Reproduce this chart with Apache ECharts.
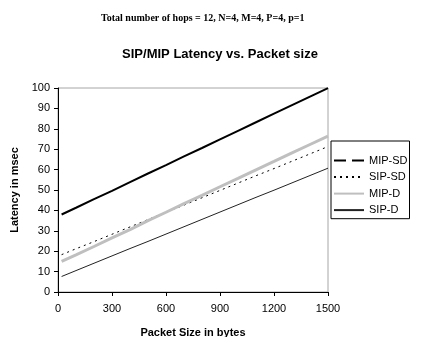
<!DOCTYPE html>
<html>
<head>
<meta charset="utf-8">
<script src="https://cdn.jsdelivr.net/npm/echarts@6/dist/echarts.min.js"></script>
<style>
  html, body { margin: 0; padding: 0; background: #fff; }
  #chart { width: 440px; height: 337px; }
</style>
</head>
<body>
<div id="chart"></div>
<script>
// packet sizes (bytes) and latencies (msec)
const packetSizes = [20, 100, 200, 300, 400, 500, 600, 700, 800, 900, 1000, 1100, 1200, 1300, 1400, 1500];
const mipSD = [38.0, 41.3, 45.5, 49.6, 53.9, 58.1, 62.2, 66.5, 70.6, 74.8, 79.0, 83.2, 87.4, 91.6, 95.8, 99.9];
const sipSD = [18.3, 21.2, 24.7, 28.3, 31.9, 35.5, 39.1, 42.6, 46.2, 49.8, 53.4, 57.0, 60.5, 64.1, 67.7, 71.3];
const mipD = [15.0, 18.2, 22.3, 26.5, 30.6, 35.0, 39.1, 43.3, 47.4, 51.6, 55.7, 59.9, 64.0, 68.2, 72.3, 76.4];
const sipD = [7.6, 10.5, 14.1, 17.7, 21.3, 24.8, 28.4, 32.0, 35.6, 39.2, 42.8, 46.4, 49.9, 53.5, 57.1, 60.7];

const chart = echarts.init(document.getElementById("chart"));

const pairs = (ys) => packetSizes.map((x, i) => [x, ys[i]]);
const axisText = { color: "#000", fontFamily: "Arial, Liberation Sans", fontSize: 11 };

chart.setOption({
  backgroundColor: "#fff",
  animation: false,
  title: [
    {
      text: "Total number of hops = 12, N=4, M=4, P=4, p=1",
      left: 96,
      top: 8,
      textStyle: { fontFamily: "Liberation Serif, Times New Roman", fontWeight: "bold", fontSize: 10, color: "#000" },
    },
    {
      text: "SIP/MIP Latency vs. Packet size",
      left: "center",
      top: 43,
      textStyle: { fontFamily: "Arial, Liberation Sans", fontWeight: "bold", fontSize: 13, color: "#000" },
    },
  ],
  legend: {
    orient: "vertical",
    left: 331,
    top: 141,
    padding: [14, 2, 3, 2],
    itemGap: 5.3,
    itemWidth: 30,
    itemHeight: 14,
    borderColor: "#000",
    borderWidth: 1,
    itemStyle: { opacity: 0 },
    textStyle: { color: "#000", fontFamily: "Arial, Liberation Sans", fontSize: 11, width: 68 },
    data: [
      { name: "MIP-SD", lineStyle: { type: [12, 6] } },
      { name: "SIP-SD" },
      { name: "MIP-D" },
      { name: "SIP-D" },
    ],
  },
  grid: {
    left: 58,
    right: 112,
    top: 88,
    bottom: 45,
    outerBoundsMode: "none",
    show: true,
    borderColor: "#a6a6a6",
    borderWidth: 1,
  },
  xAxis: {
    type: "value",
    min: 0,
    max: 1500,
    interval: 300,
    name: "Packet Size in bytes",
    nameLocation: "middle",
    nameGap: 35,
    nameTextStyle: { color: "#000", fontFamily: "Arial, Liberation Sans", fontWeight: "bold", fontSize: 11 },
    axisLine: { lineStyle: { color: "#000", width: 1 } },
    axisTick: { show: true, length: 4, lineStyle: { color: "#000" } },
    axisLabel: Object.assign({ margin: 11, formatter: (v) => String(v) }, axisText),
    splitLine: { show: false },
  },
  yAxis: {
    type: "value",
    min: 0,
    max: 100,
    interval: 10,
    name: "Latency in msec",
    nameLocation: "middle",
    nameGap: 36,
    nameTextStyle: { color: "#000", fontFamily: "Arial, Liberation Sans", fontWeight: "bold", fontSize: 11 },
    axisLine: { show: true, lineStyle: { color: "#000", width: 1 } },
    axisTick: { show: true, length: 4, lineStyle: { color: "#000" } },
    axisLabel: Object.assign({ margin: 8 }, axisText),
    splitLine: { show: false },
  },
  series: [
    {
      name: "MIP-SD",
      type: "line",
      data: pairs(mipSD),
      symbol: "none",
      color: "#000",
      lineStyle: { color: "#000", width: 2 },
    },
    {
      name: "SIP-SD",
      type: "line",
      data: pairs(sipSD),
      symbol: "none",
      color: "#000",
      lineStyle: { color: "#000", width: 1, type: [2, 4] },
    },
    {
      name: "MIP-D",
      type: "line",
      data: pairs(mipD),
      symbol: "none",
      color: "#bfbfbf",
      lineStyle: { color: "#bfbfbf", width: 3 },
    },
    {
      name: "SIP-D",
      type: "line",
      data: pairs(sipD),
      symbol: "none",
      color: "#000",
      lineStyle: { color: "#222", width: 1 },
    },
  ],
});
</script>
</body>
</html>
